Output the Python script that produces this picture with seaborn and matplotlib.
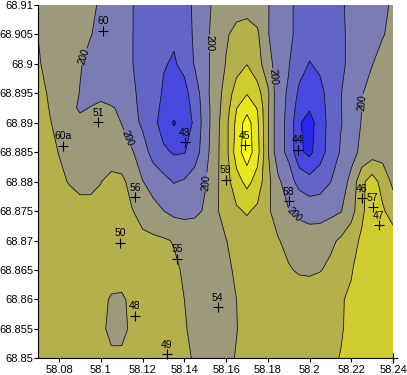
import numpy as np
import matplotlib
matplotlib.use("Agg")
import matplotlib.pyplot as plt
import seaborn as sns
from matplotlib.colors import ListedColormap, BoundaryNorm

# ---------------- data ----------------
x_grid = [58.07, 58.075, 58.08, 58.085, 58.09, 58.095, 58.10, 58.105, 58.11, 58.115,
          58.12, 58.125, 58.13, 58.135, 58.14, 58.145, 58.15, 58.155, 58.16, 58.165,
          58.17, 58.175, 58.18, 58.185, 58.19, 58.195, 58.20, 58.205, 58.21, 58.215,
          58.22, 58.225, 58.23, 58.235, 58.24]
# rows listed from top (68.91) to bottom (68.85)
y_grid = [68.91, 68.905, 68.90, 68.895, 68.8925, 68.89, 68.885, 68.88, 68.875,
          68.87, 68.865, 68.86, 68.855, 68.85]

r00 = [186, 190, 193, 195, 197, 198.5, 201, 207, 213, 219.5, 225, 230, 234, 235, 226, 217, 205, 196, 190, 187, 186, 190, 199, 208, 217, 224, 230, 233, 230, 222, 216, 211, 207, 203, 198]
r01 = [180.5, 186, 190, 194, 197, 199.5, 203, 209, 215, 219.5, 226, 232, 237, 238, 229, 217, 204, 194, 182, 175, 173, 177, 199, 209, 217, 224, 231, 234, 231, 223, 216, 211, 206, 201, 196]
r02 = [178, 186, 192, 197, 199, 204, 209, 213, 216, 219.5, 226, 233, 239, 241.5, 236, 218, 205, 193, 179, 168, 160.5, 172, 192, 210, 219, 232, 241, 236, 230, 223, 216, 210, 200.5, 194, 190]
r03 = [176, 181, 187, 194, 200.5, 204, 206, 208, 211, 217, 225, 232, 242, 246, 245, 232, 206, 190, 172, 151, 141, 152, 176, 214, 222, 244, 252, 246, 232, 220.5, 212, 201, 194, 190, 187]
r04 = [175, 180, 188, 196, 202, 199.5, 195, 198.5, 203, 216, 224, 234, 244, 250, 248, 234, 209, 189, 170, 140.5, 128, 141, 177, 214, 223, 251, 258, 248, 232, 220.5, 211, 200, 193, 189, 186]
r05 = [174, 179, 183, 187, 196, 193, 195, 197.5, 200.2, 212, 224, 233, 250, 262, 252, 236, 210, 188, 166, 135, 110, 136, 178, 214, 224, 258, 268, 250, 233, 221, 211, 199, 192, 188, 186]
r06 = [171, 176, 180.5, 185, 188, 191, 193, 195, 197, 198.5, 210, 228, 236, 242, 241, 230, 208, 186, 167, 130, 108, 132, 178, 214, 224, 256, 265, 248, 232, 218, 206, 196, 190, 187, 186]
r07 = [166, 172, 177, 181, 184, 184, 180.5, 172, 174, 190, 199.5, 206, 214, 221, 218, 210, 201, 185, 168, 148, 134, 148, 174, 196, 212, 226, 232, 229, 220.5, 209, 195, 165, 150, 168, 184]
r08 = [162, 166, 170, 173, 175, 175, 174, 172, 174, 179, 188, 195, 199.7, 205, 206, 204, 198, 183, 172, 163, 158, 164, 177, 189, 199, 205, 208, 208, 205, 201, 188, 164, 148, 157, 170]
r09 = [160, 163, 166, 168, 170, 171, 171, 171, 172, 173, 175, 176, 178, 181, 185, 187, 188, 186, 180.5, 174, 171, 171, 174, 179, 185, 188, 190, 189, 184, 177, 167, 157, 150, 148, 149]
r10 = [161, 163, 165, 167, 168, 169, 170, 171, 172, 173, 174, 175, 176, 177, 182, 186, 188, 187, 184, 177, 172, 170, 171, 174, 178.5, 182, 183, 181, 176, 169, 161, 154, 150, 148, 148]
r11 = [162, 164, 166, 168, 170, 172, 175, 182, 182.5, 176, 175, 175, 176, 178, 180, 185, 187, 188, 186, 180, 174, 171, 170, 170, 170, 170, 169, 167, 164, 161, 158, 153, 150, 148, 147]
r12 = [163, 165, 167, 169, 172, 175, 176.5, 184, 184, 177, 176, 176, 177, 178, 179, 183, 186, 187, 185, 180.5, 175, 172, 171, 170, 170, 169, 168, 166, 164, 161, 157, 153, 150, 148, 147]
r13 = [164, 166, 168, 170, 172, 174, 176, 177, 177, 176, 175, 175, 176, 177, 178, 181, 185, 186, 184, 179, 174, 172, 171, 170, 169, 168, 167, 165, 162, 159.5, 156, 152, 150, 148, 147]

levels = [120, 140, 160, 180, 200, 220, 240, 260, 280]
labeled_level = 200

stations = ["60", "51", "60a", "56", "50", "43", "45", "59", "44", "58", "46", "57",
            "47", "55", "54", "48", "49", ""]
st_lon = [58.1010, 58.0986, 58.0818, 58.1163, 58.1091, 58.1403, 58.1690, 58.1599,
          58.1943, 58.1901, 58.2250, 58.2303, 58.2332, 58.1364, 58.1560, 58.1163,
          58.1316, 58.2400]
st_lat = [68.9056, 68.8901, 68.8861, 68.8774, 68.8696, 68.8867, 68.8862, 68.8803,
          68.8854, 68.8767, 68.8772, 68.8757, 68.8726, 68.8669, 68.8587, 68.8572,
          68.8507, 68.8500]

x_ticks = [58.08, 58.10, 58.12, 58.14, 58.16, 58.18, 58.20, 58.22, 58.24]
x_tick_labels = ["58.08", "58.1", "58.12", "58.14", "58.16", "58.18", "58.2", "58.22", "58.24"]
y_ticks = [68.85, 68.855, 68.86, 68.865, 68.87, 68.875, 68.88, 68.885, 68.89, 68.895,
           68.90, 68.905, 68.91]
y_tick_labels = ["68.85", "68.855", "68.86", "68.865", "68.87", "68.875", "68.88",
                 "68.885", "68.89", "68.895", "68.9", "68.905", "68.91"]

# label anchor hints for the "200" contour labels (layout)
label_spots = [(58.0924, 68.9012), (58.1130, 68.8874), (58.1523, 68.9035),
               (58.1503, 68.8798), (58.1834, 68.8978), (58.2226, 68.8935),
               (58.1949, 68.8752)]

band_colors = ["#ffff00", "#e8e81c", "#d0cc30", "#b4b04c", "#9c9a7a",
               "#7c7cb4", "#6464c8", "#4848de", "#2828f0", "#0a0aff"]

# ---------------- figure ----------------
sns.set_style("ticks")
plt.rcParams["font.family"] = ["Liberation Sans", "DejaVu Sans"]

fig = plt.figure(figsize=(4.07, 3.75), dpi=100)
ax = fig.add_axes([38.3 / 407, 16.7 / 375, 354.7 / 407, 353.3 / 375])

Z = np.array([r00, r01, r02, r03, r04, r05, r06, r07, r08, r09, r10, r11, r12, r13])[::-1]
Y = np.array(y_grid)[::-1]
X = np.array(x_grid)

bounds = [-1e9] + levels + [1e9]
cmap = ListedColormap(band_colors)
norm = BoundaryNorm(bounds, cmap.N)
ax.contourf(X, Y, Z, levels=bounds, cmap=cmap, norm=norm)
other_levels = [lv for lv in levels if lv != labeled_level]
ax.contour(X, Y, Z, levels=other_levels, colors="#1a1a1a", linewidths=0.6)
cs200 = ax.contour(X, Y, Z, levels=[labeled_level], colors="#1a1a1a", linewidths=0.6)
ax.clabel(cs200, manual=label_spots, inline=True, inline_spacing=1,
          fmt="%d", fontsize=7, colors="black")

sns.scatterplot(x=st_lon, y=st_lat, marker="+", color="black", s=55,
                linewidth=0.8, ax=ax, legend=False, clip_on=False, zorder=5)
for name, lx, ly in zip(stations, st_lon, st_lat):
    if name:
        ax.annotate(name, (lx, ly), xytext=(0, 3.2), textcoords="offset points",
                    ha="center", va="bottom", fontsize=7.5, color="black", zorder=6)

ax.set_xlim(58.07, 58.24)
ax.set_ylim(68.85, 68.91)
ax.set_xticks(x_ticks)
ax.set_xticklabels(x_tick_labels)
ax.set_yticks(y_ticks)
ax.set_yticklabels(y_tick_labels)
ax.tick_params(axis="both", length=3, width=0.8, labelsize=8, color="black",
               labelcolor="black")
ax.tick_params(axis="y", pad=0.6)
ax.tick_params(axis="x", pad=1.5)
for s in ["top", "right"]:
    ax.spines[s].set_visible(False)
for s in ["left", "bottom"]:
    ax.spines[s].set_color("black")
    ax.spines[s].set_linewidth(0.8)

fig.savefig("out.png", dpi=100)
